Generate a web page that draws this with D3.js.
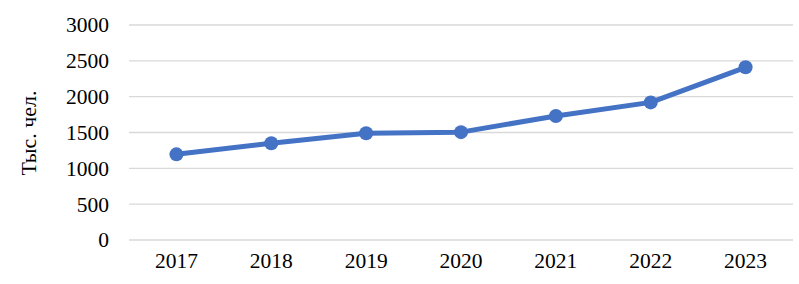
<!DOCTYPE html>
<html>
<head>
<meta charset="utf-8">
<script src="https://cdn.jsdelivr.net/npm/d3@7"></script>
<style>
  body { margin: 0; background: #fff; }
  svg text { font-family: "Liberation Serif", "Times New Roman", serif; fill: #000; }
</style>
</head>
<body>
<div id="chart"></div>
<script>
// Data
const years = ['2017', '2018', '2019', '2020', '2021', '2022', '2023'];
const values = [1195, 1350, 1490, 1505, 1730, 1920, 2410];
const yTicks = [0, 500, 1000, 1500, 2000, 2500, 3000];

const W = 799, H = 284;
const margin = { top: 25, right: 6, bottom: 44, left: 129 };
const width = W - margin.left - margin.right;
const height = H - margin.top - margin.bottom;

const svg = d3.select("#chart")
    .append("svg")
    .attr("width", W)
    .attr("height", H);

const g = svg.append("g")
    .attr("transform", `translate(${margin.left},${margin.top})`);

const x = d3.scaleBand()
    .domain(years)
    .range([0, width]);

const y = d3.scaleLinear()
    .domain([0, 3000])
    .range([height, 0]);

// Gridlines
g.selectAll(".grid")
    .data(yTicks)
    .enter()
    .append("line")
    .attr("x1", 0)
    .attr("x2", width)
    .attr("y1", d => y(d))
    .attr("y2", d => y(d))
    .attr("stroke", "#d9d9d9")
    .attr("stroke-width", 1.3);

// Y axis labels
const yAxis = g.append("g")
    .call(d3.axisLeft(y).tickValues(yTicks).tickFormat(d3.format("d")).tickSize(0).tickPadding(20));
yAxis.select(".domain").remove();
yAxis.selectAll("text").attr("font-size", 21.5).attr("font-family", "Liberation Serif");

// X axis labels
const xAxis = g.append("g")
    .attr("transform", `translate(0,${height})`)
    .call(d3.axisBottom(x).tickSize(0).tickPadding(13));
xAxis.select(".domain").remove();
xAxis.selectAll("text").attr("font-size", 21.5).attr("font-family", "Liberation Serif");

// Y axis title
svg.append("text")
    .attr("transform", `translate(36,133) rotate(-90)`)
    .attr("text-anchor", "middle")
    .attr("font-size", 22)
    .text("Тыс. чел.");

// Line
const line = d3.line()
    .x((d, i) => x(years[i]) + x.bandwidth() / 2)
    .y(d => y(d));

g.append("path")
    .datum(values)
    .attr("fill", "none")
    .attr("stroke", "#4472c4")
    .attr("stroke-width", 5)
    .attr("stroke-linejoin", "round")
    .attr("d", line);

// Markers
g.selectAll(".dot")
    .data(values)
    .enter()
    .append("circle")
    .attr("cx", (d, i) => x(years[i]) + x.bandwidth() / 2)
    .attr("cy", d => y(d))
    .attr("r", 7)
    .attr("fill", "#4472c4");
</script>
</body>
</html>
